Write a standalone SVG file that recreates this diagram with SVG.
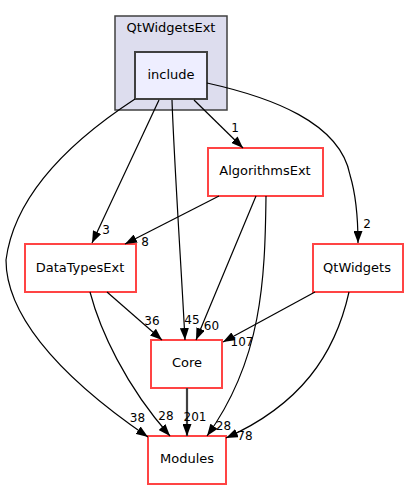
<svg xmlns="http://www.w3.org/2000/svg" width="408" height="489" viewBox="0 0 408 489">
<style>
text{font-family:"DejaVu Sans","Liberation Sans",sans-serif;fill:#000}
.nl{font-size:13px;text-anchor:middle}
.el{font-size:12px;text-anchor:middle}
.node{fill:#ffffff;stroke:#ff4444;stroke-width:2}
.edge{fill:none;stroke:#000;stroke-width:1.2}
</style>
<defs>
<marker id="ah" markerUnits="userSpaceOnUse" markerWidth="12" markerHeight="9" refX="12" refY="4.5" orient="auto">
<path d="M0,0 L12,4.5 L0,9 z" fill="#000"/>
</marker>
</defs>
<rect width="408" height="489" fill="#fff"/>
<g id="cluster_QtWidgetsExt">
<rect x="115" y="16" width="112" height="94" fill="#ddddee" stroke="#404040" stroke-width="1.5"/>
<text class="nl" x="171" y="32">QtWidgetsExt</text>
</g>
<g id="node_include">
<rect x="135" y="52" width="72" height="47" fill="#eeeeff" stroke="#404040" stroke-width="2"/>
<text class="nl" x="171" y="79">include</text>
</g>
<g id="node_AlgorithmsExt">
<rect class="node" x="208" y="148" width="115" height="48"/>
<text class="nl" x="265" y="175">AlgorithmsExt</text>
</g>
<g id="node_DataTypesExt">
<rect class="node" x="25" y="244" width="111" height="48"/>
<text class="nl" x="80" y="271.5">DataTypesExt</text>
</g>
<g id="node_QtWidgets">
<rect class="node" x="313" y="244" width="90" height="48"/>
<text class="nl" x="357" y="271.5">QtWidgets</text>
</g>
<g id="node_Core">
<rect class="node" x="151" y="340" width="71" height="48"/>
<text class="nl" x="187" y="367">Core</text>
</g>
<g id="node_Modules">
<rect class="node" x="148" y="436" width="78" height="48"/>
<text class="nl" x="187" y="463">Modules</text>
</g>
<g id="connectors">
<path class="edge" marker-end="url(#ah)" d="M194,100 L243,148"/>
<text class="el" x="235" y="132">1</text>
<path class="edge" marker-end="url(#ah)" d="M207,83 C270,97 340,122 350,175 C356,195 358,215 358,243"/>
<text class="el" x="367" y="228">2</text>
<path class="edge" marker-end="url(#ah)" d="M159,100 L92,243"/>
<text class="el" x="106" y="233.5">3</text>
<path class="edge" marker-end="url(#ah)" d="M172,100 C174,160 182,280 185,340"/>
<text class="el" x="192" y="324">45</text>
<path class="edge" marker-end="url(#ah)" d="M135,99 C80,135 15,190 6,260 C6,310 50,370 148,437"/>
<text class="el" x="137.5" y="422">38</text>
<path class="edge" marker-end="url(#ah)" d="M219,196 L125,244"/>
<text class="el" x="145" y="246">8</text>
<path class="edge" marker-end="url(#ah)" d="M256,196 L196,340"/>
<text class="el" x="211.5" y="330">60</text>
<path class="edge" marker-end="url(#ah)" d="M266,196 C265,280 262,360 207,436"/>
<text class="el" x="223.5" y="430">28</text>
<path class="edge" marker-end="url(#ah)" d="M315,292 L223,342"/>
<text class="el" x="242" y="345.5">107</text>
<path class="edge" marker-end="url(#ah)" d="M349,292 C335,355 300,405 226,438"/>
<text class="el" x="245" y="440">78</text>
<path class="edge" marker-end="url(#ah)" d="M107,292 L162,340"/>
<text class="el" x="152" y="325">36</text>
<path class="edge" marker-end="url(#ah)" d="M90,292 C100,330 125,385 170,436"/>
<text class="el" x="166" y="419.5">28</text>
<path class="edge" marker-end="url(#ah)" d="M187,388 L187,436" stroke="#404040" style="stroke:#404040;stroke-width:2.2"/>
<text class="el" x="195" y="421">201</text>
</g>
</svg>
